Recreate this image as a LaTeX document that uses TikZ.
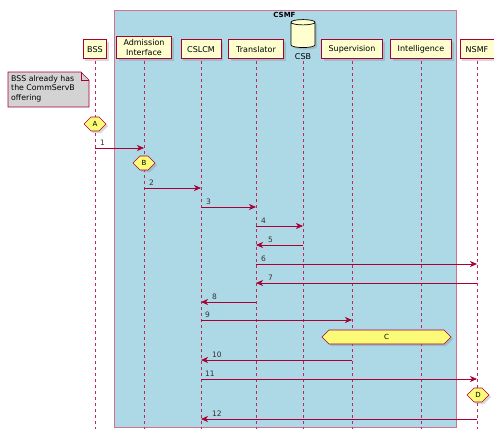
\documentclass[tikz,border=0pt]{standalone}
\usepackage{fontspec}
\setmainfont{DejaVu Sans}
\usepackage{tikz}
\usetikzlibrary{arrows.meta,shapes.geometric,shapes.symbols,shadows,positioning}
\usepackage{xcolor}
\definecolor{umlred}{RGB}{168,0,54}
\definecolor{umlline}{RGB}{190,40,90}
\definecolor{umlfill}{RGB}{254,254,206}
\definecolor{umlbox}{RGB}{173,216,230}
\definecolor{umlhex}{RGB}{251,251,119}
\definecolor{umlnote}{RGB}{211,211,211}
\tikzstyle{participant} = [rectangle, draw=umlred, fill=umlfill, line width=0.8pt, inner xsep=4pt, minimum height=19pt, align=center, font=\fontsize{8}{9.6}\selectfont, drop shadow={shadow xshift=2pt, shadow yshift=-2pt, opacity=0.3}]
\tikzstyle{lifeline} = [draw=umlline, line width=0.7pt]
\tikzstyle{msg} = [umlred, line width=0.7pt, -{Stealth[length=7pt,width=6pt,inset=2pt]}]
\tikzstyle{lbl} = [anchor=south west, inner sep=1pt, text=black!80, font=\fontsize{7.5}{9}\selectfont]
\tikzstyle{hexa} = [signal, signal to=east and west, draw=umlred, fill=umlhex, line width=0.6pt, minimum height=14pt, inner xsep=1pt, inner ysep=1pt, font=\fontsize{7}{8}\selectfont, drop shadow={shadow xshift=2pt, shadow yshift=-2pt, opacity=0.3}]

\begin{document}
\begin{tikzpicture}[x=1pt,y=-1pt]
\useasboundingbox (0,0) rectangle (494,428);
% CSMF box
\draw[umlred!55, fill=umlbox, line width=0.7pt] (114,10) rectangle (456,427);
\node[font=\bfseries\fontsize{7}{8}\selectfont] (csmf) at (284.5,15) {CSMF};
% participants
\node[participant, anchor=south] (bss) at (95,59) {BSS};
\node[participant, anchor=south, minimum width=55pt] (adm) at (144,59) {Admission\\Interface};
\node[participant, anchor=south, minimum width=40pt] (cslcm) at (201,59) {CSLCM};
\node[participant, anchor=south, minimum width=55pt] (trans) at (256,59) {Translator};
\node[cylinder, shape border rotate=90, aspect=0.8, draw=black, fill=umlfill, line width=0.7pt, minimum width=24pt, minimum height=28pt, drop shadow={shadow xshift=2pt, shadow yshift=-2pt, opacity=0.3}] (csb) at (303,36) {};
\node[font=\fontsize{8}{9.6}\selectfont, inner sep=0pt] (csblbl) at (303,57) {CSB};
\node[participant, anchor=south, minimum width=61pt] (sup) at (352,59) {Supervision};
\node[participant, anchor=south, minimum width=61pt] (intel) at (421,59) {Intelligence};
\node[participant, anchor=south, minimum width=34pt] (nsmf) at (477,59) {NSMF};
% note
\draw[umlred, fill=umlnote, line width=0.6pt] (8,72) -- (81,72) -- (89,80) -- (89,107) -- (8,107) -- cycle;
\draw[umlred, line width=0.6pt] (81,72) -- (81,80) -- (89,80);
\node[anchor=north west, align=left, inner sep=0pt, font=\fontsize{7.8}{9.8}\selectfont] (note) at (11,75) {BSS already has\\the CommServB\\offering};
% lifelines (dashes drawn one by one)
\foreach \p in {bss,adm,cslcm,trans,sup,intel,nsmf}
  \foreach \y in {2,8,...,368}
    \draw[lifeline] ([yshift=-\y pt]\p.south) -- ++(0,3);
\foreach \y in {1,7,...,367}
  \draw[lifeline] ([yshift=-\y pt]csblbl.south) -- ++(0,3);
% hexagons
\node[hexa, minimum width=22pt] (hexA) at (95,124) {A};
\node[hexa, minimum width=22pt] (hexB) at (144,163) {B};
\node[hexa, minimum width=129pt] (hexC) at (386.5,337) {C};
\node[hexa, minimum width=22pt] (hexD) at (478,395) {D};
% messages
\draw[msg] (bss |- 0,148) -- (adm |- 0,148);
\node[lbl] at (99,147) {1};
\draw[msg] (adm |- 0,188) -- (cslcm |- 0,188);
\node[lbl] at (148,187) {2};
\draw[msg] (cslcm |- 0,207) -- (trans |- 0,207);
\node[lbl] at (205,206) {3};
\draw[msg] (trans |- 0,226) -- (csb |- 0,226);
\node[lbl] at (260,225) {4};
\draw[msg] (csb |- 0,245) -- (trans |- 0,245);
\node[lbl] at (267,244) {5};
\draw[msg] (trans |- 0,264) -- (nsmf |- 0,264);
\node[lbl] at (260,263) {6};
\draw[msg] (nsmf |- 0,283) -- (trans |- 0,283);
\node[lbl] at (267,282) {7};
\draw[msg] (trans |- 0,302) -- (cslcm |- 0,302);
\node[lbl] at (211,301) {8};
\draw[msg] (cslcm |- 0,320) -- (sup |- 0,320);
\node[lbl] at (204,319) {9};
\draw[msg] (sup |- 0,360) -- (cslcm |- 0,360);
\node[lbl] at (211,359) {10};
\draw[msg] (cslcm |- 0,379) -- (nsmf |- 0,379);
\node[lbl] at (204,378) {11};
\draw[msg] (nsmf |- 0,419) -- (cslcm |- 0,419);
\node[lbl] at (211,418) {12};
\end{tikzpicture}
\end{document}
